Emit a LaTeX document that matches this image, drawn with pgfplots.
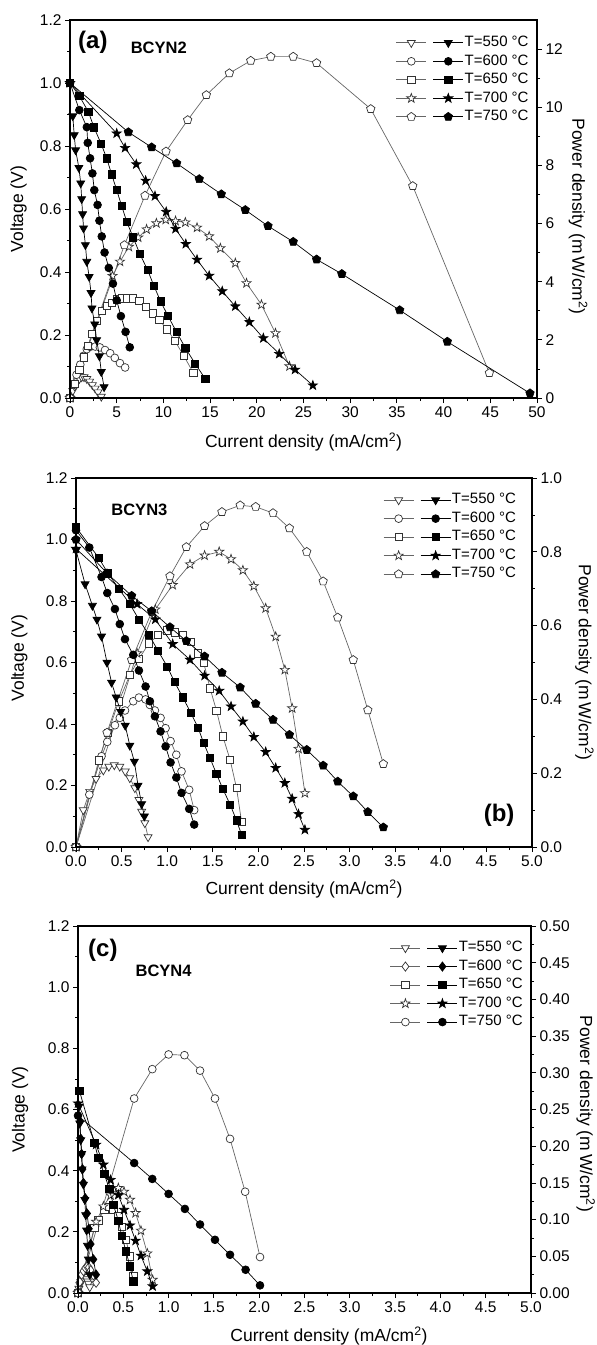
\documentclass[border=0pt]{standalone}
\usepackage{fontspec}
\setmainfont{Liberation Sans}
\usepackage{pgfplots}
\pgfplotsset{compat=1.18}
\usetikzlibrary{plotmarks}

\pgfdeclareplotmark{fstar}{%
 \pgfpathmoveto{\pgfpointpolar{90}{1.3\pgfplotmarksize}}%
 \pgfpathlineto{\pgfpointpolar{126}{0.52\pgfplotmarksize}}%
 \pgfpathlineto{\pgfpointpolar{162}{1.3\pgfplotmarksize}}%
 \pgfpathlineto{\pgfpointpolar{198}{0.52\pgfplotmarksize}}%
 \pgfpathlineto{\pgfpointpolar{234}{1.3\pgfplotmarksize}}%
 \pgfpathlineto{\pgfpointpolar{270}{0.52\pgfplotmarksize}}%
 \pgfpathlineto{\pgfpointpolar{306}{1.3\pgfplotmarksize}}%
 \pgfpathlineto{\pgfpointpolar{342}{0.52\pgfplotmarksize}}%
 \pgfpathlineto{\pgfpointpolar{18}{1.3\pgfplotmarksize}}%
 \pgfpathlineto{\pgfpointpolar{54}{0.52\pgfplotmarksize}}%
 \pgfpathclose
 \pgfusepathqfillstroke
}

\pgfplotsset{
 every axis/.append style={scale only axis, clip=false, tick align=outside,
   major tick length=5pt, minor tick length=3pt,
   every tick/.style={black, line width=0.8pt},
   axis line style={line width=1.1pt},
   tick label style={font=\fontsize{15.5}{15.5}\selectfont},
   label style={font=\fontsize{17.5}{17.5}\selectfont},
   /pgf/number format/assume math mode=true,
   scaled ticks=false},
 po/.style={color=black!60, line width=0.7pt},
 pf/.style={color=black, line width=0.7pt},
 otri/.style={po, mark=triangle*, mark size=4.6pt, mark options={rotate=180, fill=white, draw=black!80}},
 ftri/.style={pf, mark=triangle*, mark size=4.6pt, mark options={rotate=180, fill=black, draw=black}},
 ocir/.style={po, mark=*, mark size=3.9pt, mark options={fill=white, draw=black!80}},
 fcir/.style={pf, mark=*, mark size=3.9pt, mark options={fill=black, draw=black}},
 osq/.style={po, mark=square*, mark size=3.6pt, mark options={fill=white, draw=black!80}},
 fsq/.style={pf, mark=square*, mark size=3.6pt, mark options={fill=black, draw=black}},
 ostr/.style={po, mark=fstar, mark size=3.7pt, mark options={fill=white, draw=black!80}},
 fstr/.style={pf, mark=fstar, mark size=3.7pt, mark options={fill=black, draw=black}},
 opnt/.style={po, mark=pentagon*, mark size=4.4pt, mark options={fill=white, draw=black!80}},
 fpnt/.style={pf, mark=pentagon*, mark size=4.4pt, mark options={fill=black, draw=black}},
 odia/.style={po, mark=diamond*, mark size=4.6pt, mark options={fill=white, draw=black!80}},
 fdia/.style={pf, mark=diamond*, mark size=4.6pt, mark options={fill=black, draw=black}},
 lgp/.style n args={3}{legend image code/.code={%
   \draw[black!60, line width=0.7pt] (0pt,0pt) -- (30pt,0pt);
   \draw[black!80, line width=0.7pt] plot[only marks, mark=#1, mark size=#2, mark options={#3, fill=white, draw=black!80}] coordinates {(15pt,0pt)};
   \draw[black, line width=0.7pt] (37pt,0pt) -- (67pt,0pt);
   \draw[black, line width=0.7pt] plot[only marks, mark=#1, mark size=#2, mark options={#3, fill=black, draw=black}] coordinates {(52pt,0pt)};
 }},
 leg/.style={legend style={draw=none, fill=none, font=\fontsize{15}{15}\selectfont,
   nodes={inner sep=1pt, text height=10.5pt, text depth=3pt}, row sep=3pt}, legend cell align=left},
 vaxis/.style={ymin=0, ymax=1.2, ytick={0,0.2,0.4,0.6,0.8,1.0,1.2}, minor y tick num=1,
   yticklabel style={/pgf/number format/.cd, fixed, fixed zerofill, precision=1},
   xtick pos=bottom, ytick pos=left, minor x tick num=1, ylabel={Voltage (V)},
   xlabel={Current density (mA/cm\textsuperscript{2})}},
 paxis/.style={axis y line*=right, axis x line=none, minor y tick num=1,
   ylabel={Power density (m\,W/cm\textsuperscript{2})}},
}

\begin{document}
\begin{tikzpicture}
\path[use as bounding box] (0pt,0pt) rectangle (597pt,-1345pt);

% ================= Panel (a) =================
\begin{axis}[paxis, at={(70pt,-20pt)}, anchor=north west, width=467pt, height=378pt,
  xmin=0, xmax=50, ymin=0, ymax=13, ytick={0,2,4,6,8,10,12},
  ylabel style={at={(axis description cs:1.088,0.48)}, anchor=center, rotate=180}]
\addplot[otri] coordinates {(0,0)(0.3,0.25)(0.5,0.4)(0.8,0.58)(1.0,0.66)(1.25,0.72)(1.5,0.72)(1.8,0.66)(2.1,0.57)(2.4,0.45)(2.7,0.33)(3.0,0.2)(3.35,0.05)};
\addplot[ocir] coordinates {(0,0)(0.4,0.45)(0.7,0.8)(1.1,1.15)(1.45,1.45)(1.8,1.68)(2.15,1.76)(2.7,1.77)(3.2,1.74)(3.75,1.65)(4.3,1.54)(4.8,1.38)(5.35,1.2)(5.9,1.05)};
\addplot[osq] coordinates {(0,0)(0.5,0.5)(1.0,0.96)(1.5,1.4)(1.95,1.8)(2.32,2.2)(2.85,2.65)(3.39,2.99)(3.93,3.16)(4.46,3.28)(5.0,3.39)(5.53,3.43)(6.07,3.43)(6.71,3.43)(7.42,3.34)(8.14,3.14)(8.85,2.91)(9.56,2.68)(10.4,2.36)(11.24,1.96)(12.2,1.44)(13.2,0.87)};
\addplot[ostr] coordinates {(0,0)(4.55,4.2)(5.35,4.69)(6.3,5.2)(7.3,5.52)(8.2,5.8)(9.25,6.01)(10.25,6.13)(11.3,6.09)(12.35,6.04)(13.6,5.86)(14.9,5.56)(16.1,5.15)(17.7,4.64)(18.9,3.95)(20.5,3.21)(22.0,2.23)(23.5,1.09)};
\addplot[opnt] coordinates {(0,0)(5.82,5.26)(8.03,6.96)(10.28,8.48)(12.6,9.56)(14.6,10.42)(17.06,11.17)(19.35,11.6)(21.5,11.74)(23.9,11.74)(26.4,11.52)(32.2,9.94)(36.7,7.29)(44.9,0.86)};
\end{axis}

\begin{axis}[vaxis, leg, at={(70pt,-20pt)}, anchor=north west, width=467pt, height=378pt,
  xmin=0, xmax=50, xtick={0,5,...,50},
  ylabel style={at={(axis description cs:-0.110,0.5)}, anchor=center},
  xlabel style={at={(axis description cs:0.5,-0.116)}, anchor=center},
  legend style={at={(0.991,0.966)}, anchor=north east}]
\addplot[ftri, lgp={triangle*}{4.6pt}{rotate=180}] coordinates {(0.3,0.895)(0.45,0.835)(0.6,0.787)(0.95,0.731)(1.15,0.682)(1.25,0.632)(1.35,0.584)(1.45,0.539)(1.65,0.486)(1.8,0.433)(2.05,0.385)(2.25,0.334)(2.35,0.285)(2.65,0.234)(2.85,0.184)(3.15,0.133)(3.35,0.083)(3.65,0.035)};
\addlegendentry{T=550 °C}
\addplot[fcir, lgp={*}{3.9pt}{}] coordinates {(0,1.0)(1.0,0.914)(1.8,0.86)(1.9,0.81)(2.15,0.761)(2.4,0.713)(2.6,0.66)(2.95,0.613)(3.15,0.563)(3.4,0.513)(3.7,0.462)(4.15,0.413)(4.6,0.363)(5.0,0.31)(5.45,0.26)(5.95,0.21)(6.4,0.161)};
\addlegendentry{T=600 °C}
\addplot[fsq, lgp={square*}{3.6pt}{}] coordinates {(0,1.0)(1.0,0.959)(1.96,0.909)(2.57,0.859)(3.32,0.808)(3.93,0.761)(4.46,0.71)(5.0,0.66)(5.53,0.61)(6.07,0.56)(6.76,0.51)(7.47,0.458)(8.3,0.407)(8.97,0.357)(9.7,0.307)(10.5,0.26)(11.4,0.21)(12.35,0.159)(13.4,0.109)(14.5,0.06)};
\addlegendentry{T=650 °C}
\addplot[fstr, lgp={fstar}{3.7pt}{}] coordinates {(0,1.0)(5.0,0.84)(5.9,0.794)(7.1,0.742)(8.1,0.69)(9.1,0.641)(10.3,0.591)(11.3,0.537)(12.4,0.489)(13.6,0.439)(14.9,0.388)(16.3,0.339)(17.7,0.291)(19.2,0.241)(20.7,0.19)(22.4,0.14)(24.1,0.09)(26.0,0.04)};
\addlegendentry{T=700 °C}
\addplot[fpnt, lgp={pentagon*}{4.4pt}{}] coordinates {(0,1.0)(6.25,0.844)(8.74,0.796)(11.42,0.745)(13.84,0.695)(16.2,0.647)(18.77,0.597)(21.2,0.546)(23.9,0.496)(26.4,0.44)(29.1,0.394)(35.3,0.279)(40.4,0.179)(49.25,0.015)};
\addlegendentry{T=750 °C}
\node[font=\fontsize{24}{24}\selectfont\bfseries] at (rel axis cs:0.049,0.94) {(a)};
\node[font=\fontsize{16.5}{16.5}\selectfont\bfseries] at (rel axis cs:0.19,0.927) {BCYN2};
\end{axis}

% ================= Panel (b) =================
\begin{axis}[paxis, at={(76pt,-478pt)}, anchor=north west, width=456pt, height=369pt,
  xmin=0, xmax=5, ymin=0, ymax=1.0, ytick={0,0.2,0.4,0.6,0.8,1.0},
  yticklabel style={/pgf/number format/.cd, fixed, fixed zerofill, precision=1},
  ylabel style={at={(axis description cs:1.115,0.5)}, anchor=center, rotate=180}]
\addplot[otri] coordinates {(0,0)(0.08,0.1)(0.15,0.15)(0.22,0.185)(0.3,0.208)(0.36,0.218)(0.42,0.222)(0.48,0.218)(0.54,0.205)(0.59,0.187)(0.645,0.16)(0.69,0.128)(0.72,0.096)(0.755,0.065)(0.79,0.027)};
\addplot[ocir] coordinates {(0,0)(0.146,0.142)(0.28,0.246)(0.343,0.285)(0.427,0.33)(0.48,0.35)(0.537,0.37)(0.628,0.395)(0.69,0.405)(0.763,0.40)(0.81,0.385)(0.865,0.37)(0.927,0.35)(0.982,0.322)(1.037,0.287)(1.1,0.25)(1.157,0.205)(1.241,0.155)(1.296,0.1)};
\addplot[osq] coordinates {(0,0)(0.25,0.235)(0.35,0.31)(0.47,0.395)(0.59,0.466)(0.69,0.51)(0.8,0.552)(0.9,0.574)(1.0,0.587)(1.08,0.582)(1.17,0.575)(1.26,0.555)(1.34,0.525)(1.4,0.50)(1.47,0.43)(1.54,0.37)(1.61,0.30)(1.69,0.236)(1.76,0.16)(1.815,0.069)};
\addplot[ostr] coordinates {(0,0)(0.67,0.525)(0.87,0.644)(1.06,0.71)(1.25,0.766)(1.41,0.79)(1.57,0.80)(1.7,0.78)(1.83,0.75)(1.95,0.707)(2.08,0.647)(2.19,0.57)(2.29,0.48)(2.37,0.376)(2.44,0.266)(2.51,0.146)};
\addplot[opnt] coordinates {(0,0)(0.34,0.31)(0.61,0.507)(0.83,0.637)(1.03,0.734)(1.21,0.813)(1.41,0.87)(1.6,0.908)(1.8,0.926)(1.97,0.922)(2.16,0.905)(2.34,0.864)(2.53,0.80)(2.71,0.72)(2.87,0.622)(3.04,0.507)(3.2,0.371)(3.37,0.225)};
\end{axis}

\begin{axis}[vaxis, leg, at={(76pt,-478pt)}, anchor=north west, width=456pt, height=369pt,
  xmin=0, xmax=5, xtick={0,0.5,1,1.5,2,2.5,3,3.5,4,4.5,5},
  xticklabel style={/pgf/number format/.cd, fixed, fixed zerofill, precision=1},
  ylabel style={at={(axis description cs:-0.124,0.512)}, anchor=center},
  xlabel style={at={(axis description cs:0.5,-0.114)}, anchor=center},
  legend style={at={(0.974,0.967)}, anchor=north east}]
\addplot[ftri, lgp={triangle*}{4.6pt}{rotate=180}] coordinates {(0,0.965)(0.1,0.855)(0.18,0.785)(0.23,0.74)(0.28,0.685)(0.34,0.6)(0.39,0.535)(0.44,0.487)(0.49,0.44)(0.54,0.395)(0.59,0.33)(0.64,0.278)(0.68,0.2)(0.72,0.14)(0.75,0.1)};
\addlegendentry{T=550 °C}
\addplot[fcir, lgp={*}{3.9pt}{}] coordinates {(0,1.03)(0.146,0.974)(0.28,0.878)(0.343,0.826)(0.427,0.774)(0.48,0.725)(0.537,0.676)(0.628,0.625)(0.69,0.574)(0.763,0.522)(0.81,0.474)(0.865,0.425)(0.927,0.376)(0.982,0.327)(1.037,0.275)(1.1,0.226)(1.157,0.176)(1.241,0.124)(1.296,0.073)};
\addlegendentry{T=600 °C}
\addplot[fsq, lgp={square*}{3.6pt}{}] coordinates {(0,1.04)(0.25,0.94)(0.35,0.89)(0.47,0.84)(0.59,0.79)(0.69,0.74)(0.8,0.69)(0.9,0.638)(1.0,0.587)(1.08,0.537)(1.17,0.487)(1.26,0.436)(1.34,0.387)(1.4,0.338)(1.47,0.289)(1.54,0.238)(1.61,0.189)(1.69,0.138)(1.76,0.087)(1.815,0.04)};
\addlegendentry{T=650 °C}
\addplot[fstr, lgp={fstar}{3.7pt}{}] coordinates {(0,0.97)(0.67,0.79)(0.87,0.74)(1.06,0.66)(1.25,0.609)(1.41,0.557)(1.57,0.508)(1.7,0.457)(1.83,0.408)(1.95,0.358)(2.08,0.309)(2.19,0.257)(2.29,0.208)(2.37,0.157)(2.44,0.107)(2.51,0.056)};
\addlegendentry{T=700 °C}
\addplot[fpnt, lgp={pentagon*}{4.4pt}{}] coordinates {(0,1.0)(0.34,0.89)(0.61,0.817)(0.83,0.767)(1.03,0.715)(1.21,0.67)(1.41,0.62)(1.6,0.567)(1.8,0.519)(1.97,0.466)(2.16,0.414)(2.34,0.365)(2.53,0.316)(2.71,0.265)(2.87,0.213)(3.04,0.165)(3.2,0.114)(3.37,0.064)};
\addlegendentry{T=750 °C}
\node[font=\fontsize{16.5}{16.5}\selectfont\bfseries] at (rel axis cs:0.139,0.913) {BCYN3};
\node[font=\fontsize{24}{24}\selectfont\bfseries] at (rel axis cs:0.928,0.087) {(b)};
\end{axis}

% ================= Panel (c) =================
\begin{axis}[paxis, at={(78pt,-926pt)}, anchor=north west, width=453pt, height=367pt,
  xmin=0, xmax=5, ymin=0, ymax=0.5, ytick={0,0.05,0.1,0.15,0.2,0.25,0.3,0.35,0.4,0.45,0.5},
  yticklabel style={/pgf/number format/.cd, fixed, fixed zerofill, precision=2},
  ylabel style={at={(axis description cs:1.121,0.488)}, anchor=center, rotate=180}]
\addplot[otri] coordinates {(0,0)(0.01,0.006)(0.02,0.011)(0.03,0.015)(0.04,0.018)(0.045,0.019)(0.06,0.021)(0.075,0.023)(0.085,0.022)(0.095,0.019)(0.105,0.016)(0.115,0.013)(0.13,0.008)};
\addplot[odia] coordinates {(0,0)(0.02,0.015)(0.04,0.025)(0.06,0.03)(0.08,0.034)(0.1,0.036)(0.12,0.035)(0.14,0.031)(0.17,0.024)(0.2,0.014)};
\addplot[osq] coordinates {(0,0)(0.18,0.089)(0.224,0.099)(0.29,0.113)(0.345,0.117)(0.39,0.113)(0.445,0.105)(0.482,0.09)(0.53,0.072)(0.574,0.05)(0.61,0.023)};
\addplot[ostr] coordinates {(0,0)(0.2,0.097)(0.28,0.118)(0.36,0.133)(0.445,0.143)(0.508,0.138)(0.574,0.127)(0.636,0.109)(0.695,0.085)(0.765,0.054)(0.824,0.018)};
\addplot[ocir] coordinates {(0,0)(0.62,0.265)(0.82,0.305)(1.0,0.325)(1.175,0.324)(1.347,0.303)(1.512,0.265)(1.678,0.21)(1.845,0.138)(2.009,0.049)};
\end{axis}

\begin{axis}[vaxis, leg, at={(78pt,-926pt)}, anchor=north west, width=453pt, height=367pt,
  xmin=0, xmax=5, xtick={0,0.5,1,1.5,2,2.5,3,3.5,4,4.5,5},
  xticklabel style={/pgf/number format/.cd, fixed, fixed zerofill, precision=1},
  ylabel style={at={(axis description cs:-0.128,0.5)}, anchor=center},
  xlabel style={at={(axis description cs:0.554,-0.117)}, anchor=center},
  legend style={at={(0.991,0.967)}, anchor=north east}]
\addplot[ftri, lgp={triangle*}{4.6pt}{rotate=180}] coordinates {(0.01,0.61)(0.02,0.555)(0.03,0.5)(0.04,0.455)(0.045,0.405)(0.06,0.355)(0.075,0.305)(0.085,0.255)(0.095,0.205)(0.105,0.155)(0.115,0.11)(0.13,0.06)};
\addlegendentry{T=550 °C}
\addplot[fdia, lgp={diamond*}{4.6pt}{}] coordinates {(0.02,0.56)(0.03,0.505)(0.04,0.455)(0.05,0.405)(0.06,0.36)(0.08,0.31)(0.1,0.26)(0.12,0.21)(0.14,0.16)(0.17,0.11)(0.2,0.06)};
\addlegendentry{T=600 °C}
\addplot[fsq, lgp={square*}{3.6pt}{}] coordinates {(0.015,0.662)(0.18,0.492)(0.224,0.441)(0.29,0.39)(0.345,0.34)(0.39,0.289)(0.445,0.237)(0.482,0.187)(0.53,0.136)(0.574,0.087)(0.61,0.038)};
\addlegendentry{T=650 °C}
\addplot[fstr, lgp={fstar}{3.7pt}{}] coordinates {(0,0.62)(0.2,0.485)(0.28,0.42)(0.36,0.37)(0.445,0.321)(0.508,0.272)(0.574,0.221)(0.636,0.171)(0.695,0.122)(0.765,0.071)(0.824,0.022)};
\addlegendentry{T=700 °C}
\addplot[fcir, lgp={*}{3.9pt}{}] coordinates {(0,0.58)(0.62,0.425)(0.82,0.373)(1.0,0.324)(1.18,0.275)(1.347,0.224)(1.512,0.174)(1.678,0.125)(1.85,0.076)(2.009,0.025)};
\addlegendentry{T=750 °C}
\node[font=\fontsize{24}{24}\selectfont\bfseries] at (rel axis cs:0.055,0.935) {(c)};
\node[font=\fontsize{16.5}{16.5}\selectfont\bfseries] at (rel axis cs:0.189,0.877) {BCYN4};
\end{axis}
\end{tikzpicture}
\end{document}
